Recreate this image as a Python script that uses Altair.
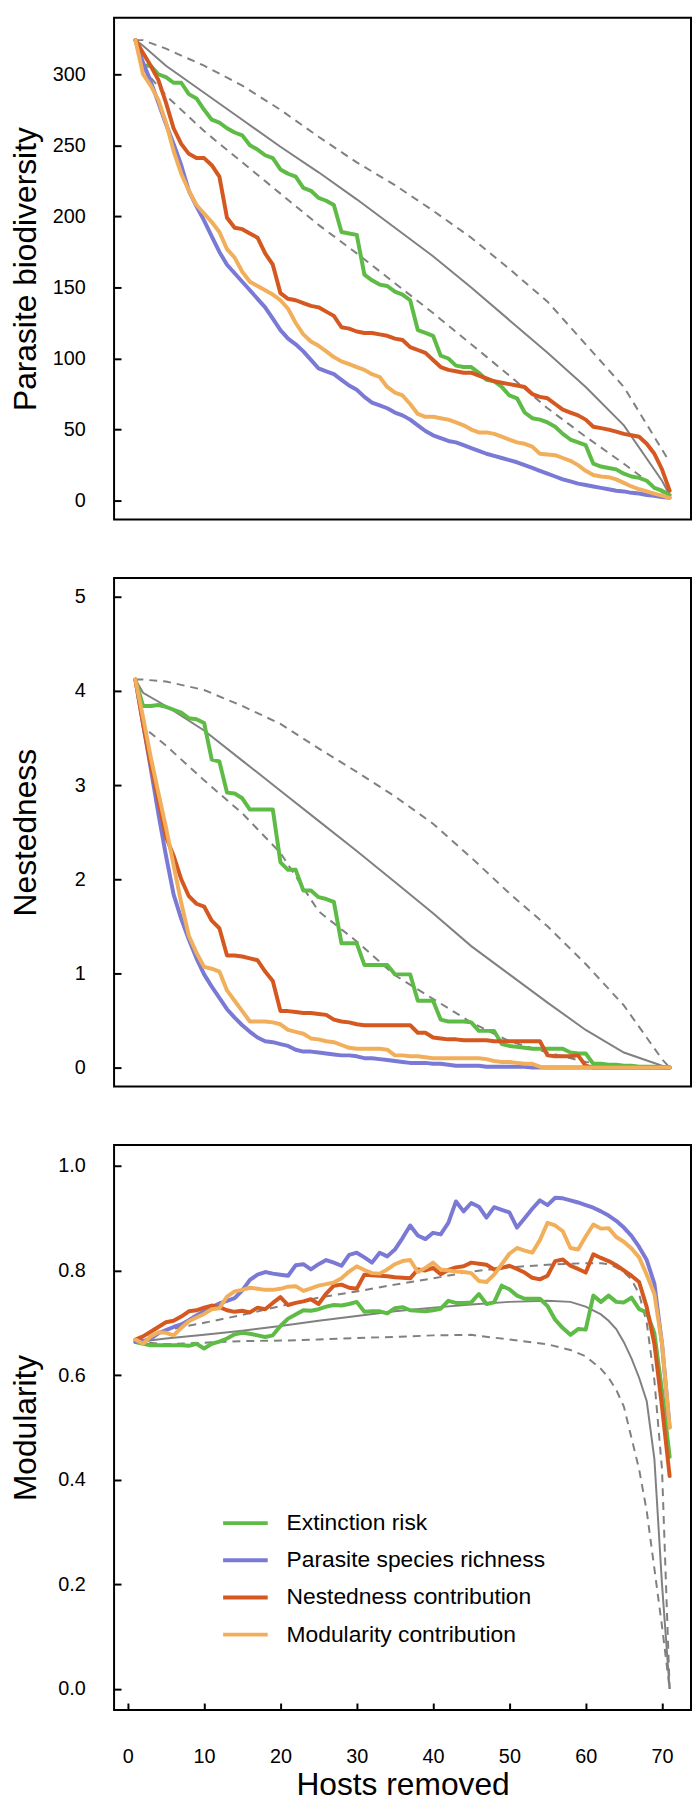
import altair as alt
import pandas as pd

FONT = "Liberation Sans"
GRAY = "#808080"

hosts = list(range(1, 72))
series_names = ["Extinction risk", "Parasite species richness",
                "Nestedness contribution", "Modularity contribution"]
series_colors = ["#5DBB46", "#7A7AD6", "#D4581F", "#F2AF5B"]

x_ticks = [0, 10, 20, 30, 40, 50, 60, 70]
bio_ticks = [0, 50, 100, 150, 200, 250, 300]
nest_ticks = [0, 1, 2, 3, 4, 5]
mod_ticks = [0.0, 0.2, 0.4, 0.6, 0.8, 1.0]

# ---------------- Panel 1: Parasite biodiversity ----------------
bio_ext = [324, 306, 306, 300, 298, 294, 294, 286, 283, 275,
           268, 266, 262, 259, 257, 250, 247, 243, 241, 233,
           230, 228, 220, 218, 213, 211, 208, 189, 188, 187,
           159, 155, 152, 151, 147, 145, 141, 120, 118, 116,
           102, 100, 95, 94, 94, 90, 85, 84, 80, 74,
           72, 62, 58, 57, 55, 52, 47, 43, 41, 39,
           26, 24, 23, 22, 19, 17, 16, 14, 9, 7, 4]
bio_rich = [324, 308, 295, 280, 265, 251, 236, 218, 207, 197,
            186, 175, 166, 160, 154, 148, 142, 136, 128, 120,
            114, 110, 105, 99, 93, 91, 89, 85, 81, 78,
            73, 69, 67, 65, 62, 60, 57, 53, 49, 46,
            44, 42, 41, 39, 37, 35, 33, 31.5, 30, 28.5,
            27, 25, 23, 21, 19, 17, 15, 13.5, 12, 11,
            10, 9, 8, 7, 6.5, 5.5, 5, 4, 3.5, 2.5, 2]
bio_nest = [324, 315, 306, 296, 280, 262, 251, 244, 241, 241,
            236, 228, 199, 192, 191, 188, 185, 174, 166, 146,
            142, 141, 139, 137, 136, 133, 130, 122, 121, 119,
            118, 118, 117, 116, 114, 113, 108, 106, 104, 99,
            94, 92, 91, 90, 90, 88, 86, 84, 83, 82,
            81, 80, 75, 73, 72, 68, 64, 62, 60, 57,
            52, 51, 50, 48.5, 47, 46, 45, 40, 33, 22, 7]
bio_mod = [324, 300, 292, 282, 266, 246, 230, 218, 208, 202,
           196, 189, 177, 171, 161, 154, 151, 148, 145, 141,
           135, 125, 117, 112, 109, 105, 101, 98, 96, 94,
           92, 89, 87, 80, 76, 74, 68, 61, 59, 59,
           58, 57, 55, 53, 50, 48, 48, 47, 45, 43,
           41, 40, 38, 33, 32.5, 32, 30, 28, 25, 21,
           18, 17, 16.5, 15, 12.5, 10, 8, 6.5, 5, 3.5, 2]
bio_null_x = [1, 2, 5, 10, 15, 20, 25, 30, 35, 40, 45, 50, 55, 60, 65, 70, 71]
bio_null_mean = [324, 320, 306, 287, 268, 249, 231, 212, 192, 172, 150, 127, 104, 80, 53, 14, 4]
bio_null_high = [324, 324, 318, 306, 292, 275, 256, 238, 222, 204, 185, 163, 140, 110, 80, 36, 27]
bio_null_low = [324, 304, 285, 260, 238, 216, 194, 174, 153, 132, 110, 88, 65, 45, 26, 6, 3]

# ---------------- Panel 2: Nestedness ----------------
nest_ext = [4.12, 3.84, 3.84, 3.85, 3.83, 3.80, 3.77, 3.71, 3.70, 3.66,
            3.27, 3.25, 2.92, 2.91, 2.86, 2.74, 2.74, 2.74, 2.74, 2.18,
            2.10, 2.10, 1.88, 1.88, 1.81, 1.79, 1.76, 1.32, 1.32, 1.32,
            1.09, 1.09, 1.09, 1.09, 0.99, 0.99, 0.99, 0.71, 0.71, 0.71,
            0.51, 0.49, 0.49, 0.49, 0.48, 0.39, 0.39, 0.39, 0.25, 0.23,
            0.22, 0.21, 0.20, 0.20, 0.20, 0.20, 0.20, 0.16, 0.15, 0.15,
            0.04, 0.04, 0.03, 0.03, 0.02, 0.02, 0.01, 0.01, 0.01, 0.0, 0.0]
nest_rich = [4.12, 3.65, 3.18, 2.70, 2.25, 1.84, 1.58, 1.36, 1.16, 0.99,
             0.86, 0.74, 0.62, 0.53, 0.45, 0.38, 0.32, 0.28, 0.27, 0.25,
             0.23, 0.19, 0.17, 0.17, 0.16, 0.15, 0.14, 0.13, 0.13, 0.12,
             0.10, 0.10, 0.09, 0.08, 0.07, 0.06, 0.05, 0.05, 0.05, 0.04,
             0.04, 0.03, 0.02, 0.02, 0.02, 0.02, 0.01, 0.01, 0.01, 0.01,
             0.01, 0.01, 0.0, 0.0, 0.0, 0.0, 0.0, 0.0, 0.0, 0.0,
             0.0, 0.0, 0.0, 0.0, 0.0, 0.0, 0.0, 0.0, 0.0, 0.0, 0.0]
nest_nest = [4.12, 3.65, 3.22, 2.84, 2.45, 2.25, 2.00, 1.82, 1.74, 1.71,
             1.56, 1.48, 1.19, 1.19, 1.18, 1.16, 1.14, 1.02, 0.92, 0.60,
             0.60, 0.59, 0.58, 0.58, 0.57, 0.56, 0.51, 0.49, 0.48, 0.46,
             0.45, 0.45, 0.45, 0.45, 0.45, 0.45, 0.45, 0.37, 0.37, 0.32,
             0.31, 0.30, 0.30, 0.29, 0.29, 0.29, 0.29, 0.28, 0.28, 0.28,
             0.28, 0.28, 0.28, 0.28, 0.13, 0.12, 0.12, 0.12, 0.13, 0.02,
             0.0, 0.0, 0.0, 0.0, 0.0, 0.0, 0.0, 0.0, 0.0, 0.0, 0.0]
nest_mod = [4.12, 3.72, 3.30, 2.92, 2.55, 2.15, 1.75, 1.40, 1.22, 1.07,
            1.05, 1.02, 0.82, 0.71, 0.60, 0.49, 0.49, 0.49, 0.48, 0.46,
            0.40, 0.38, 0.36, 0.31, 0.30, 0.28, 0.27, 0.24, 0.21, 0.20,
            0.20, 0.20, 0.20, 0.19, 0.13, 0.13, 0.12, 0.12, 0.11, 0.10,
            0.10, 0.10, 0.10, 0.10, 0.10, 0.10, 0.09, 0.07, 0.06, 0.06,
            0.05, 0.04, 0.04, 0.01, 0.0, 0.0, 0.0, 0.0, 0.0, 0.0,
            0.0, 0.0, 0.0, 0.0, 0.0, 0.0, 0.0, 0.0, 0.0, 0.0, 0.0]
nest_null_x = [1, 2, 5, 10, 15, 20, 25, 30, 35, 40, 45, 50, 55, 60, 65, 70, 71]
nest_null_mean = [4.12, 3.98, 3.84, 3.58, 3.26, 2.94, 2.62, 2.30, 1.97, 1.64, 1.29, 0.99, 0.69, 0.40, 0.16, 0.02, 0.0]
nest_null_high = [4.12, 4.12, 4.10, 4.01, 3.84, 3.65, 3.39, 3.14, 2.88, 2.59, 2.23, 1.85, 1.50, 1.10, 0.66, 0.09, 0.0]
nest_null_low = [4.12, 3.62, 3.42, 3.05, 2.70, 2.28, 1.66, 1.34, 0.98, 0.73, 0.48, 0.28, 0.16, 0.06, 0.01, 0.0, 0.0]

# ---------------- Panel 3: Modularity ----------------
mod_ext = [0.663, 0.660, 0.657, 0.657, 0.657, 0.657, 0.657, 0.656, 0.660, 0.651,
           0.660, 0.664, 0.670, 0.678, 0.681, 0.679, 0.676, 0.673, 0.676, 0.694,
           0.708, 0.716, 0.724, 0.723, 0.726, 0.731, 0.734, 0.733, 0.736, 0.740,
           0.721, 0.722, 0.722, 0.718, 0.728, 0.730, 0.724, 0.723, 0.722, 0.724,
           0.727, 0.742, 0.738, 0.738, 0.739, 0.755, 0.736, 0.739, 0.771, 0.764,
           0.752, 0.746, 0.746, 0.746, 0.732, 0.706, 0.690, 0.677, 0.688, 0.687,
           0.752, 0.740, 0.752, 0.740, 0.739, 0.748, 0.726, 0.720, 0.680, 0.570, 0.444]
mod_rich = [0.664, 0.665, 0.670, 0.680, 0.686, 0.692, 0.697, 0.705, 0.714, 0.722,
            0.730, 0.737, 0.742, 0.747, 0.762, 0.782, 0.792, 0.797, 0.794, 0.792,
            0.790, 0.810, 0.812, 0.802, 0.812, 0.820, 0.815, 0.809, 0.830, 0.834,
            0.825, 0.815, 0.834, 0.827, 0.840, 0.862, 0.886, 0.867, 0.860, 0.872,
            0.869, 0.891, 0.932, 0.913, 0.929, 0.922, 0.901, 0.921, 0.916, 0.911,
            0.882, 0.900, 0.918, 0.934, 0.925, 0.939, 0.938, 0.934, 0.930, 0.925,
            0.920, 0.913, 0.905, 0.895, 0.882, 0.866, 0.845, 0.820, 0.775, 0.660, 0.500]
mod_nest = [0.668, 0.674, 0.683, 0.692, 0.701, 0.704, 0.712, 0.722, 0.724, 0.729,
            0.733, 0.730, 0.724, 0.721, 0.723, 0.720, 0.729, 0.726, 0.738, 0.749,
            0.734, 0.738, 0.741, 0.745, 0.736, 0.756, 0.771, 0.773, 0.767, 0.765,
            0.792, 0.791, 0.790, 0.789, 0.787, 0.786, 0.785, 0.802, 0.800, 0.805,
            0.793, 0.801, 0.806, 0.808, 0.815, 0.813, 0.811, 0.802, 0.805, 0.809,
            0.803, 0.796, 0.786, 0.783, 0.790, 0.818, 0.821, 0.809, 0.803, 0.796,
            0.831, 0.824, 0.818, 0.810, 0.800, 0.790, 0.778, 0.730, 0.660, 0.540, 0.407]
mod_mod = [0.668, 0.660, 0.674, 0.682, 0.681, 0.676, 0.690, 0.703, 0.710, 0.717,
           0.726, 0.728, 0.750, 0.760, 0.763, 0.767, 0.765, 0.763, 0.763, 0.765,
           0.769, 0.770, 0.761, 0.766, 0.771, 0.774, 0.777, 0.785, 0.798, 0.808,
           0.801, 0.795, 0.794, 0.802, 0.812, 0.818, 0.820, 0.797, 0.805, 0.815,
           0.802, 0.800, 0.798, 0.797, 0.795, 0.780, 0.778, 0.792, 0.812, 0.832,
           0.843, 0.838, 0.834, 0.858, 0.891, 0.886, 0.875, 0.843, 0.840, 0.865,
           0.888, 0.880, 0.881, 0.864, 0.855, 0.842, 0.825, 0.792, 0.755, 0.660, 0.500]
mod_null_x = [1, 5, 10, 15, 20, 25, 30, 35, 40, 45, 50, 55, 58, 60, 62, 63, 64, 65, 66, 67, 68, 69, 70, 71]
mod_null_mean = [0.663, 0.670, 0.677, 0.685, 0.694, 0.704, 0.713, 0.722, 0.729, 0.735, 0.740, 0.742,
                 0.740, 0.731, 0.716, 0.704, 0.688, 0.663, 0.632, 0.595, 0.550, 0.440, 0.200, 0.0]
mod_null_high = [0.664, 0.686, 0.700, 0.715, 0.732, 0.748, 0.760, 0.773, 0.785, 0.798, 0.806, 0.811,
                 0.813, 0.814, 0.814, 0.812, 0.806, 0.797, 0.783, 0.755, 0.700, 0.590, 0.420, 0.0]
mod_null_low = [0.664, 0.659, 0.662, 0.665, 0.666, 0.668, 0.671, 0.673, 0.676, 0.677, 0.668, 0.659,
                0.648, 0.636, 0.612, 0.595, 0.572, 0.540, 0.480, 0.420, 0.340, 0.230, 0.120, 0.0]

X_DOMAIN = [-1.8, 73.8]
WIDTH = 582
INWARD = {"expr": "-7"}
SHIFT = -2.4


def build_panel(rows, nulls, y_title, y_ticks, y_domain, height, y_fmt, title_pad, bottom, legend):
    xs = alt.Scale(domain=X_DOMAIN, nice=False, zero=False)
    ys = alt.Scale(domain=y_domain, nice=False, zero=False)
    if bottom:
        xa = alt.Axis(values=x_ticks, title="Hosts removed", tickSize=INWARD,
                      labelPadding=44, domain=False, grid=False, labelFlush=False,
                      titleBaseline="alphabetic", titlePadding=28)
    else:
        xa = None
    ya = alt.Axis(values=y_ticks, title=y_title, tickSize=INWARD, labelPadding=36,
                  format=y_fmt, domain=False, grid=False,
                  titleBaseline="alphabetic", titlePadding=title_pad + SHIFT)
    X = alt.X("h:Q", scale=xs, axis=xa)
    Y = alt.Y("v:Q", scale=ys, axis=ya)
    layers = []
    nx, nmean, nhigh, nlow = nulls
    for vals, dash in [(nmean, None), (nhigh, [8, 6]), (nlow, [8, 6])]:
        df = pd.DataFrame({"h": nx, "v": vals})
        kw = dict(color=GRAY, strokeWidth=2)
        if dash:
            kw["strokeDash"] = dash
        layers.append(alt.Chart(df).mark_line(**kw).encode(x=X, y=Y))
    cscale = alt.Scale(domain=series_names, range=series_colors)
    for name, vals in zip(series_names, rows):
        df = pd.DataFrame({"h": hosts, "v": vals, "series": [name] * len(hosts)})
        layers.append(
            alt.Chart(df).mark_line(strokeWidth=4, strokeCap="round", strokeJoin="round")
            .encode(x=X, y=Y, color=alt.Color("series:N", scale=cscale, legend=legend))
        )
    return alt.layer(*layers).properties(width=WIDTH, height=height)


legend3 = alt.Legend(title=None, orient="none", legendX=115.5, legendY=364.5,
                     symbolType="M-1.5,0L1.5,0", symbolSize=900, symbolStrokeWidth=4,
                     labelFont=FONT, labelFontSize=23, labelColor="black",
                     labelOffset=24.5, labelLimit=500, rowPadding=8.5, padding=0,
                     direction="vertical")

p1 = build_panel([bio_ext, bio_rich, bio_nest, bio_mod],
                 (bio_null_x, bio_null_mean, bio_null_high, bio_null_low),
                 "Parasite biodiversity", bio_ticks, [-13.2, 339.7], 506, "d", 19, False, None)
p2 = build_panel([nest_ext, nest_rich, nest_nest, nest_mod],
                 (nest_null_x, nest_null_mean, nest_null_high, nest_null_low),
                 "Nestedness", nest_ticks, [-0.2, 5.2], 513, "d", 41.3, False, None)
p3 = build_panel([mod_ext, mod_rich, mod_nest, mod_mod],
                 (mod_null_x, mod_null_mean, mod_null_high, mod_null_low),
                 "Modularity", mod_ticks, [-0.04, 1.04], 570, ".1f", 24.6, True, legend3)

chart = (
    alt.vconcat(p1, p2, p3, spacing=57)
    .resolve_scale(y="independent", color="independent")
    .resolve_legend(color="independent")
    .properties(padding={"left": 0, "top": 1, "right": 0, "bottom": 0})
    .configure_view(stroke="black", strokeWidth=2)
    .configure_axis(labelFont=FONT, titleFont=FONT, labelFontSize=20, titleFontSize=32,
                    titleFontWeight="normal", labelColor="black", titleColor="black",
                    tickColor="black", tickWidth=2)
)

chart.save("out.html", embed_options={"renderer": "svg", "actions": False})
